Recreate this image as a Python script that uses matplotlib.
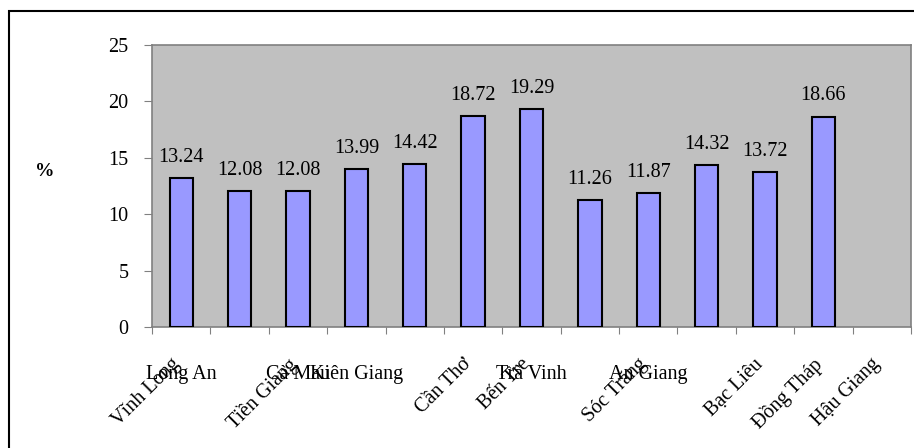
import matplotlib
matplotlib.use("Agg")
import matplotlib.pyplot as plt
from matplotlib.patches import Rectangle

# Provinces of the Mekong Delta and their rates (%)
provinces = ["Vĩnh Long", "Long An", "Tiền Giang", "Cà Mau", "Kiên Giang",
             "Cần Thơ", "Bến Tre", "Trà Vinh", "Sóc Trăng", "An Giang",
             "Bạc Liêu", "Đồng Tháp", "Hậu Giang"]
rates = [13.24, 12.08, 12.08, 13.99, 14.42, 18.72, 19.29,
         11.26, 11.87, 14.32, 13.72, 18.66]
y_ticks = [0, 5, 10, 15, 20, 25]

# Where each category label sits along the axis and whether it is slanted
label_slots = [0, 0, 2, 2, 3, 5, 6, 6, 8, 8, 10, 11, 12]
label_slanted = [True, False, True, False, False, True, True, False,
                 True, False, True, True, True]

plt.rcParams["font.family"] = ["Liberation Serif", "DejaVu Serif"]
FS = 14.5

W, H = 914, 448
fig = plt.figure(figsize=(W / 100, H / 100), dpi=100)

# chart frame
fig.patches.append(Rectangle((9 / W, -0.1), 1.2, 1 - 11 / H + 0.1,
                             transform=fig.transFigure, fill=False,
                             edgecolor="black", linewidth=1.5))

left, right, top, bottom = 152, 911, 45, 327
ax = fig.add_axes([left / W, 1 - bottom / H, (right - left) / W, (bottom - top) / H])
ax.set_facecolor("#C0C0C0")

n_slots = len(provinces)
x = list(range(len(rates)))
ax.bar(x, rates, width=0.4, color="#9999FF", edgecolor="black", linewidth=1.5, zorder=3)
for xi, v in zip(x, rates):
    ax.annotate(f"{v:.2f}", (xi, v), xytext=(0, 8), textcoords="offset points",
                ha="center", va="bottom", fontsize=FS)

ax.set_xlim(-0.5, n_slots - 0.5)
ax.set_ylim(0, 25)
ax.set_yticks(y_ticks)
ax.set_yticklabels([str(t) for t in y_ticks], fontsize=FS)
ax.tick_params(axis="y", length=6, width=0.8, color="#808080", pad=11)

# category boundary ticks
ax.set_xticks([i + 0.5 for i in range(-1, n_slots)])
ax.set_xticklabels([])
ax.tick_params(axis="x", length=5, width=0.8, color="#808080")

for s in ax.spines.values():
    s.set_color("#808080")
    s.set_linewidth(1.2)

# category labels
for name, slot, slanted in zip(provinces, label_slots, label_slanted):
    if slanted:
        ax.annotate(name, (slot, 0), xytext=(-8, -20), textcoords="offset points",
                    ha="right", va="top", rotation=45, rotation_mode="anchor",
                    fontsize=FS)
    else:
        ax.annotate(name, (slot, 0), xytext=(0, -27), textcoords="offset points",
                    ha="center", va="top", fontsize=FS)

fig.text(45 / W, 1 - 172 / H, "%", fontsize=14, fontweight="bold",
         ha="center", va="center")

fig.savefig("out.png", dpi=100)
